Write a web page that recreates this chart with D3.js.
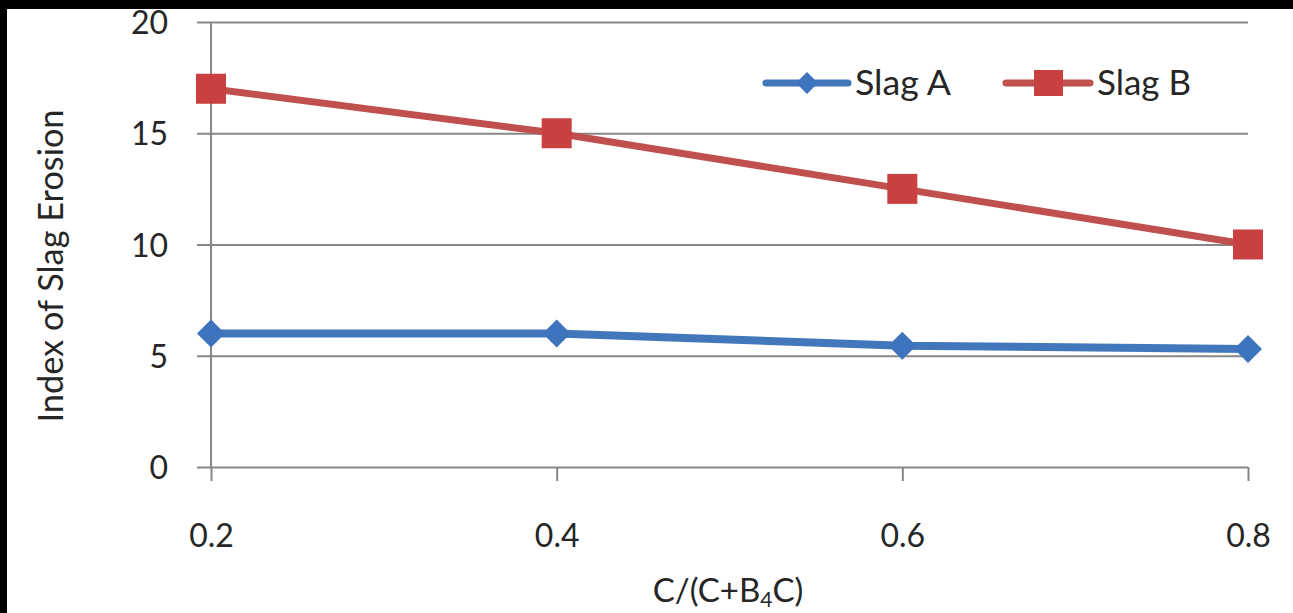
<!DOCTYPE html>
<html><head><meta charset="utf-8">
<script src="https://cdn.jsdelivr.net/npm/d3@7"></script>
<style>html,body{margin:0;padding:0;background:#000;overflow:hidden}</style>
</head><body>
<script>
const categories = ["0.2","0.4","0.6","0.8"];
const slagA = [6, 6, 5.45, 5.3];
const slagB = [17, 15, 12.5, 10];
const yTicks = [0, 5, 10, 15, 20];
const seriesNames = ["Slag A", "Slag B"];

const W = 1293, H = 613;
const FONT = "Lato, 'Open Sans', sans-serif";
const svg = d3.select("body").append("svg").attr("width", W).attr("height", H);
svg.append("rect").attr("x", 7).attr("y", 9).attr("width", W - 7).attr("height", H - 9).attr("fill", "#fff");

const x = d3.scalePoint().domain(categories).range([211, 1248]);
const y = d3.scaleLinear().domain([0, 20]).range([467, 22]);

const gridCol = "#878787";
const txtCol = "#262626";
const yAxis = d3.axisLeft(y).tickValues(yTicks).tickSize(14).tickFormat(d => d);
const gy = svg.append("g").attr("transform", "translate(211,0)").call(yAxis);
gy.select(".domain").attr("stroke", gridCol).attr("stroke-width", 2).attr("d", `M0,${y(20)}V${y(0)}`);
gy.selectAll(".tick line").attr("stroke", gridCol).attr("stroke-width", 2).attr("x2", 1248 - 211).attr("x1", -14);
gy.selectAll(".tick text").attr("x", -43).attr("dy", "0.36em").attr("font-family", FONT).attr("font-size", 32).attr("fill", txtCol);

const xAxis = d3.axisBottom(x).tickSize(14);
const gx = svg.append("g").attr("transform", `translate(0,${y(0)})`).call(xAxis);
gx.select(".domain").remove();
gx.selectAll(".tick line").attr("stroke", gridCol).attr("stroke-width", 2);
gx.selectAll(".tick text").attr("y", 80).attr("dy", 0).attr("font-family", FONT).attr("font-size", 32).attr("fill", txtCol);

const blue = "#4377bb", red = "#c0504d";
const line = d3.line().x((d, i) => x(categories[i])).y(d => y(d));

svg.append("path").datum(slagB).attr("d", line).attr("fill", "none").attr("stroke", red).attr("stroke-width", 7);
svg.append("path").datum(slagA).attr("d", line).attr("fill", "none").attr("stroke", blue).attr("stroke-width", 8);

const sq = 30;
svg.selectAll(".mb").data(slagB).enter().append("rect")
  .attr("x", (d, i) => x(categories[i]) - sq / 2).attr("y", d => y(d) - sq / 2)
  .attr("width", sq).attr("height", sq).attr("fill", "#c8403f");
const dm = 14;
svg.selectAll(".ma").data(slagA).enter().append("path")
  .attr("d", (d, i) => { const cx = x(categories[i]), cy = y(d); return `M${cx},${cy - dm}L${cx + dm},${cy}L${cx},${cy + dm}L${cx - dm},${cy}Z`; })
  .attr("fill", "#3d74bd");

// legend
const leg = svg.append("g");
const ly = 83;
leg.append("line").attr("x1", 766).attr("x2", 848).attr("y1", ly).attr("y2", ly).attr("stroke", blue).attr("stroke-width", 7).attr("stroke-linecap", "round");
leg.append("path").attr("d", `M807,${ly - 11}L818,${ly}L807,${ly + 11}L796,${ly}Z`).attr("fill", "#3d74bd");
leg.append("text").attr("x", 855).attr("y", ly + 12).text(seriesNames[0]).attr("font-family", FONT).attr("font-size", 34).attr("fill", txtCol).attr("textLength", 96).attr("lengthAdjust", "spacingAndGlyphs");
leg.append("line").attr("x1", 1006).attr("x2", 1090).attr("y1", ly).attr("y2", ly).attr("stroke", red).attr("stroke-width", 7).attr("stroke-linecap", "round");
leg.append("rect").attr("x", 1034).attr("y", ly - 13).attr("width", 29).attr("height", 26).attr("fill", "#c8403f");
leg.append("text").attr("x", 1097).attr("y", ly + 12).text(seriesNames[1]).attr("font-family", FONT).attr("font-size", 34).attr("fill", txtCol).attr("textLength", 94).attr("lengthAdjust", "spacingAndGlyphs");

// axis titles
const xt = svg.append("text").attr("x", 728).attr("y", 602).attr("text-anchor", "middle").attr("font-family", FONT).attr("font-size", 33).attr("fill", txtCol);
xt.append("tspan").text("C/(C+B");
xt.append("tspan").text("4").attr("font-size", 21).attr("dy", 5);
xt.append("tspan").text("C)").attr("dy", -5);

svg.append("text").attr("transform", "translate(63,266) rotate(-90)").attr("text-anchor", "middle")
  .attr("font-family", FONT).attr("font-size", 34).attr("fill", txtCol)
  .attr("textLength", 313).attr("lengthAdjust", "spacingAndGlyphs").text("Index of Slag Erosion");
</script>
</body></html>
